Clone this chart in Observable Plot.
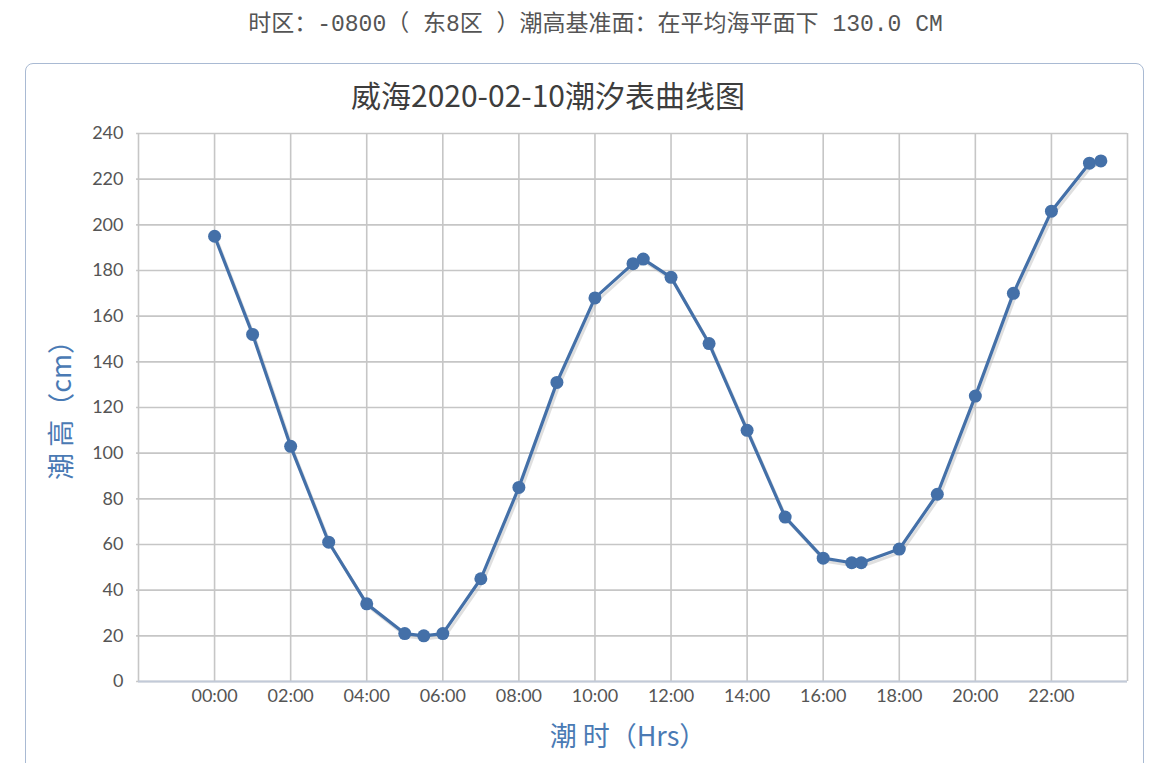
<!DOCTYPE html>
<html>
<head>
<meta charset="utf-8">
<script src="https://cdn.jsdelivr.net/npm/d3@7"></script>
<script src="https://cdn.jsdelivr.net/npm/@observablehq/plot@0.6"></script>
<style>
  html, body { margin: 0; padding: 0; background: #fff; }
  body { width: 1173px; height: 763px; position: relative; overflow: hidden; }
  #header { position: absolute; left: 0; top: 4px; width: 1191px; text-align: center;
    font-family: "Liberation Mono", "Noto Sans CJK SC", monospace; font-size: 23px; color: #555; white-space: pre; }
  #box { position: absolute; left: 25px; top: 63px; width: 1117px; height: 760px;
    border: 1px solid #a9bad3; border-radius: 8px; }
  #title { position: absolute; left: 0; top: 72px; width: 1096px; text-align: center;
    font-family: "Noto Sans CJK SC", sans-serif; font-size: 30px; color: #3d3d3d; }
  #chart { position: absolute; left: 0; top: 0; }
</style>
</head>
<body>
<div id="header">时区：-0800（ 东8区 ）潮高基准面：在平均海平面下 130.0 CM</div>
<div id="box"></div>
<div id="title">威海2020-02-10潮汐表曲线图</div>
<div id="chart"></div>
<script>
// tide time (hours) and height (cm)
const hours = [0, 1, 2, 3, 4, 5, 5.5, 6, 7, 8, 9, 10, 11, 11.27, 12, 13, 14, 15, 16, 16.75, 17, 18, 19, 20, 21, 22, 23, 23.3];
const heights = [195, 152, 103, 61, 34, 21, 20, 21, 45, 85, 131, 168, 183, 185, 177, 148, 110, 72, 54, 52, 52, 58, 82, 125, 170, 206, 227, 228];
const xTicks = [0, 2, 4, 6, 8, 10, 12, 14, 16, 18, 20, 22];
const yTicks = [0, 20, 40, 60, 80, 100, 120, 140, 160, 180, 200, 220, 240];
const xLabel = "潮 时（Hrs）";
const yLabel = "潮 高（cm）";

const data = hours.map((h, i) => ({h, v: heights[i]}));
const fmt = h => String(h).padStart(2, "0") + ":00";

const chart = Plot.plot({
  width: 1173,
  height: 763,
  marginLeft: 138,
  marginRight: 46,
  marginTop: 133,
  marginBottom: 82,
  style: {background: "transparent", fontFamily: "Lato, 'Open Sans', sans-serif", fontSize: "18px", color: "#555"},
  x: {domain: [-2, 24]},
  y: {domain: [0, 240]},
  marks: [
    Plot.gridX([-2, ...xTicks, 24], {stroke: "#c6c6c6", strokeOpacity: 1, strokeWidth: 1.6}),
    Plot.gridY(yTicks, {stroke: "#c6c6c6", strokeOpacity: 1, strokeWidth: 1.6, x1: -2.05, x2: 24}),
    Plot.ruleY([0], {stroke: "#c2cad8", strokeWidth: 2.2}),
    Plot.axisX(xTicks, {tickSize: 0, tickPadding: 8, tickFormat: fmt, label: null, fill: "#555"}),
    Plot.axisY(yTicks, {tickSize: 0, tickPadding: 15, label: null, fill: "#555"}),
    Plot.line(data, {x: "h", y: "v", stroke: "#b8b8b8", strokeOpacity: 0.45, strokeWidth: 3, dx: 2, dy: 3}),
    Plot.line(data, {x: "h", y: "v", stroke: "#4470a8", strokeWidth: 3.2}),
    Plot.dot(data, {x: "h", y: "v", r: 6.5, fill: "#4470a8", stroke: "none"}),
    Plot.text([xLabel], {frameAnchor: "bottom", dy: 64, dx: -5, fill: "#4a7ab4", fontSize: 27,
      fontFamily: "'Noto Sans CJK SC', sans-serif"}),
    Plot.text([yLabel], {frameAnchor: "left", textAnchor: "middle", dx: -76, dy: -4, rotate: -90, fill: "#4a7ab4", fontSize: 27,
      fontFamily: "'Noto Sans CJK SC', sans-serif"})
  ]
});
document.getElementById("chart").appendChild(chart);
</script>
</body>
</html>
